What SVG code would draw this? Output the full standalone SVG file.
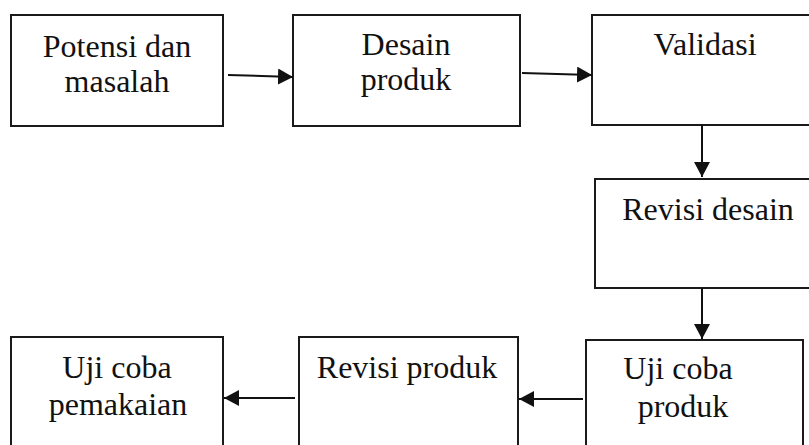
<svg xmlns="http://www.w3.org/2000/svg" width="809" height="445" viewBox="0 0 809 445">
<style>
.box{fill:#fff;stroke:#1a1a1a;stroke-width:2}
.lbl{font-family:"Liberation Serif","Times New Roman",serif;font-size:32px;fill:#111;text-anchor:middle}
.conn{stroke:#111;stroke-width:2;fill:none;marker-end:url(#ah)}
</style>
<defs>
<marker id="ah" markerUnits="userSpaceOnUse" markerWidth="16" markerHeight="16" refX="15" refY="8" orient="auto">
<path d="M0,0 L15,8 L0,16 z" fill="#111"/>
</marker>
</defs>
<rect width="809" height="445" fill="#fff"/>
<g id="n1"><rect class="box" x="11" y="15" width="212" height="111"/><text class="lbl" x="117" y="57">Potensi dan</text><text class="lbl" x="117" y="92">masalah</text></g>
<g id="n2"><rect class="box" x="293" y="15" width="227" height="111"/><text class="lbl" x="406" y="55">Desain</text><text class="lbl" x="406" y="90">produk</text></g>
<g id="n3"><rect class="box" x="592" y="15" width="230" height="110"/><text class="lbl" x="705" y="55">Validasi</text></g>
<g id="n4"><rect class="box" x="595" y="179" width="230" height="109"/><text class="lbl" x="708" y="220">Revisi desain</text></g>
<g id="n5"><rect class="box" x="586" y="340" width="217" height="120"/><text class="lbl" x="678" y="379">Uji coba</text><text class="lbl" x="683" y="417">produk</text></g>
<g id="n6"><rect class="box" x="299" y="337" width="219" height="123"/><text class="lbl" x="407" y="378">Revisi produk</text></g>
<g id="n7"><rect class="box" x="11" y="337" width="212" height="123"/><text class="lbl" x="117" y="378">Uji coba</text><text class="lbl" x="118" y="415">pemakaian</text></g>
<g id="connectors">
<line class="conn" x1="228" y1="75" x2="293" y2="77"/>
<line class="conn" x1="522" y1="73" x2="592" y2="75"/>
<line class="conn" x1="702" y1="125" x2="702" y2="177"/>
<line class="conn" x1="702" y1="288" x2="702" y2="339"/>
<line class="conn" x1="583" y1="399" x2="519" y2="399"/>
<line class="conn" x1="295" y1="398" x2="224" y2="398"/>
</g>
</svg>
